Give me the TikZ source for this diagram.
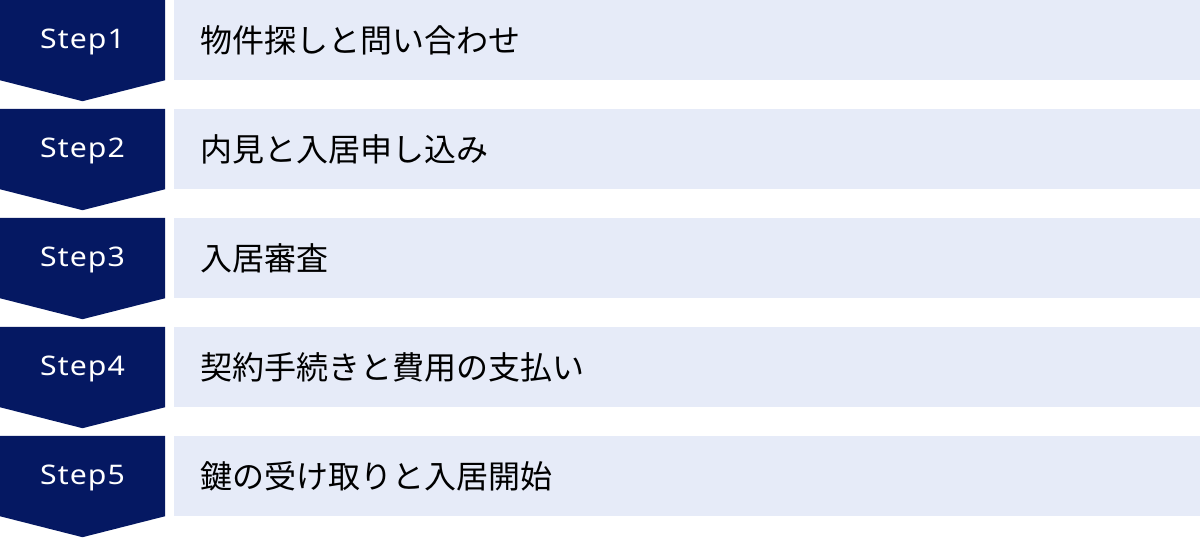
\documentclass[tikz,border=0pt]{standalone}
\usepackage{fontspec}
\newfontfamily\jpfont{Noto Sans CJK JP}
\newfontfamily\stepfont[LetterSpace=4,FakeStretch=1.12]{Noto Sans}
\usetikzlibrary{positioning}
\definecolor{stepnavy}{RGB}{5,24,98}
\definecolor{rowblue}{RGB}{230,235,248}

\begin{document}
\begin{tikzpicture}[node distance=109pt,
		stepbox/.style={minimum width=165pt,minimum height=80pt,inner sep=0pt},
		steplabel/.style={inner sep=0pt,anchor=base,text=white,font=\stepfont\fontsize{27}{30}\selectfont},
		rowbox/.style={fill=rowblue,minimum height=80pt,text width=974pt,inner xsep=26pt,inner ysep=0pt,align=left,font=\jpfont\fontsize{32}{36}\selectfont}]
			\useasboundingbox (0,0) rectangle (1200pt,-538pt);
			\node (s1) [stepbox] at (82.5pt,-40pt) {};
			\node (s2) [stepbox,below of=s1] {};
			\node (s3) [stepbox,below of=s2] {};
			\node (s4) [stepbox,below of=s3] {};
			\node (s5) [stepbox,below of=s4] {};
			
			\foreach \n in {1,...,5}
				\fill [stepnavy] (s\n.north west) -- (s\n.north east) -- (s\n.south east) -- ([yshift=-21pt]s\n.south) -- (s\n.south west) -- cycle;
			\foreach \n in {1,...,5}
				\node (l\n) [steplabel] at ([yshift=-8.5pt]s\n.center) {Step\n};
			
			\node (r1) [rowbox,right=9pt of s1] {物件探しと問い合わせ};
			\node (r2) [rowbox,right=9pt of s2] {内見と入居申し込み};
			\node (r3) [rowbox,right=9pt of s3] {入居審査};
			\node (r4) [rowbox,right=9pt of s4] {契約手続きと費用の支払い};
			\node (r5) [rowbox,right=9pt of s5] {鍵の受け取りと入居開始};
			
		\end{tikzpicture}
\end{document}
